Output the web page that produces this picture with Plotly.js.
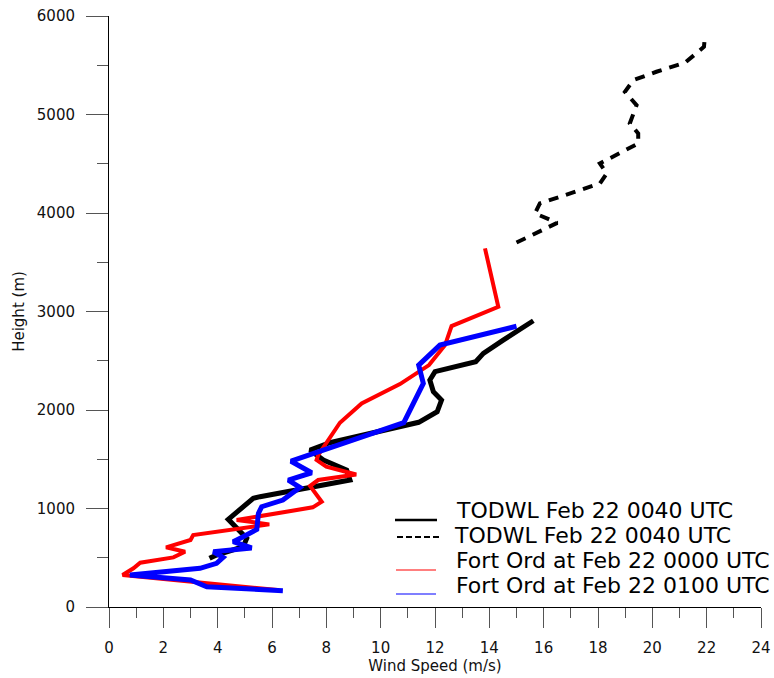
<!DOCTYPE html>
<html>
<head>
<meta charset="utf-8">
<script src="https://cdn.plot.ly/plotly-3.0.1.min.js"></script>
<style>
html,body{margin:0;padding:0;background:#fff;}
#chart{width:774px;height:678px;}
</style>
</head>
<body>
<div id="chart"></div>
<script>
// ---- data (height in m, wind speed in m/s) ----
const todwlSolidHeight = [494, 528, 612, 697, 890, 1103, 1120, 1289, 1391, 1492, 1594, 1668, 1875, 1982, 2101, 2186, 2304, 2389, 2490, 2575, 2710, 2906];
const todwlSolidSpeed  = [3.7, 3.96, 4.94, 5.07, 4.39, 5.31, 5.56, 8.87, 8.75, 7.89, 7.4, 8.13, 11.4, 12.08, 12.24, 11.94, 11.81, 12.0, 13.5, 13.78, 14.51, 15.62];

const todwlDashHeight = [3700, 3900, 3996, 4097, 4300, 4402, 4503, 4706, 4808, 4909, 5095, 5230, 5349, 5434, 5525, 5687, 5806];
const todwlDashSpeed  = [15.0, 16.5, 15.68, 15.86, 18.07, 18.32, 18.07, 19.48, 19.48, 19.17, 19.42, 18.99, 19.3, 20.15, 21.2, 21.9, 21.94];

const ford0000Height = [173, 325, 393, 450, 504, 561, 606, 680, 731, 839, 883, 977, 1012, 1069, 1228, 1289, 1345, 1424, 1492, 1543, 1729, 1871, 2067, 2263, 2456, 2659, 2852, 3048, 3641];
const ford0000Speed  = [6.2, 0.5, 0.9, 1.15, 2.37, 2.8, 2.1, 3.0, 3.1, 5.9, 4.7, 6.66, 7.5, 7.83, 7.4, 7.7, 9.1, 8.0, 7.64, 7.7, 8.13, 8.5, 9.3, 10.71, 11.78, 12.37, 12.61, 14.33, 13.84];

const ford0100Height = [165, 206, 274, 325, 393, 443, 504, 561, 600, 663, 714, 788, 951, 1018, 1086, 1215, 1289, 1363, 1480, 1871, 2270, 2456, 2659, 2850];
const ford0100Speed  = [6.4, 3.6, 3.0, 0.77, 3.35, 3.96, 4.2, 3.84, 5.25, 4.57, 4.94, 5.44, 5.5, 5.62, 6.4, 7.03, 6.6, 7.46, 6.7, 10.85, 11.57, 11.4, 12.18, 15.0];

const legendLabels = [
  "TODWL Feb 22 0040 UTC",
  "TODWL Feb 22 0040 UTC",
  "Fort Ord at Feb 22 0000 UTC",
  "Fort Ord at Feb 22 0100 UTC"
];

const xTitle = "Wind Speed (m/s)";
const yTitle = "Height (m)";

// ---- styles ----
const FONT = "DejaVu Sans, Arial, sans-serif";
const traces = [
  {x: todwlSolidSpeed, y: todwlSolidHeight, mode: "lines", line: {color: "#000000", width: 5}},
  {x: todwlDashSpeed, y: todwlDashHeight, mode: "lines", line: {color: "#000000", width: 4, dash: "10px,8px"}},
  {x: ford0000Speed, y: ford0000Height, mode: "lines", line: {color: "#ff0000", width: 4}},
  {x: ford0100Speed, y: ford0100Height, mode: "lines", line: {color: "#0000ff", width: 5}}
].map(t => Object.assign(t, {showlegend: false, hoverinfo: "skip"}));

// legend geometry in pixels -> paper coords
const L = 109, R = 761, T = 16, B = 607;
const px = v => (v - L) / (R - L);
const py = v => (B - v) / (B - T);

const legendRows = [
  {lineY: 520, textY: 510, x0: 395, x1: 437, color: "#000000", width: 2.5, dash: "solid", textX: 454},
  {lineY: 537, textY: 535, x0: 397, x1: 439, color: "#000000", width: 2, dash: "6px,3px", textX: 452},
  {lineY: 570, textY: 560, x0: 396, x1: 436, color: "#ff0000", width: 1.2, dash: "solid", textX: 454},
  {lineY: 594, textY: 585, x0: 396, x1: 436, color: "#0000ff", width: 1.2, dash: "solid", textX: 454}
];

const shapes = legendRows.map(r => ({
  type: "line", xref: "paper", yref: "paper",
  x0: px(r.x0), x1: px(r.x1), y0: py(r.lineY), y1: py(r.lineY),
  line: {color: r.color, width: r.width, dash: r.dash}
}));

const annotations = legendRows.map((r, i) => ({
  xref: "paper", yref: "paper", x: px(r.textX), y: py(r.textY),
  xanchor: "left", yanchor: "middle", showarrow: false,
  text: legendLabels[i], font: {family: FONT, size: 22, color: "#000"}
}));

const layout = {
  width: 774, height: 678,
  margin: {l: L, r: 774 - R, t: T, b: 678 - B, pad: 0},
  paper_bgcolor: "#fff", plot_bgcolor: "#fff",
  showlegend: false,
  xaxis: {
    range: [0, 24], tick0: 0, dtick: 2, autorange: false,
    showgrid: false, zeroline: false,
    showline: true, linecolor: "#000", linewidth: 1, mirror: false,
    ticks: "outside", ticklen: 20, tickwidth: 1, tickcolor: "#555",
    ticklabelstandoff: 7,
    minor: {dtick: 1, ticks: "outside", ticklen: 10, tickwidth: 1, tickcolor: "#555", showgrid: false},
    tickfont: {family: FONT, size: 15, color: "#111"},
    title: {text: xTitle, font: {family: FONT, size: 15, color: "#111"}, standoff: 4},
    automargin: false
  },
  yaxis: {
    range: [0, 6000], tick0: 0, dtick: 1000, autorange: false,
    showgrid: false, zeroline: false,
    showline: true, linecolor: "#000", linewidth: 1,
    ticks: "outside", ticklen: 22, tickwidth: 1, tickcolor: "#555",
    ticklabelstandoff: 8,
    minor: {dtick: 500, ticks: "outside", ticklen: 11, tickwidth: 1, tickcolor: "#555", showgrid: false},
    tickfont: {family: FONT, size: 15, color: "#111"},
    title: {text: yTitle, font: {family: FONT, size: 15, color: "#111"}, standoff: 8},
    automargin: false
  },
  shapes: shapes,
  annotations: annotations
};

Plotly.newPlot("chart", traces, layout, {staticPlot: true, displayModeBar: false});
</script>
</body>
</html>
